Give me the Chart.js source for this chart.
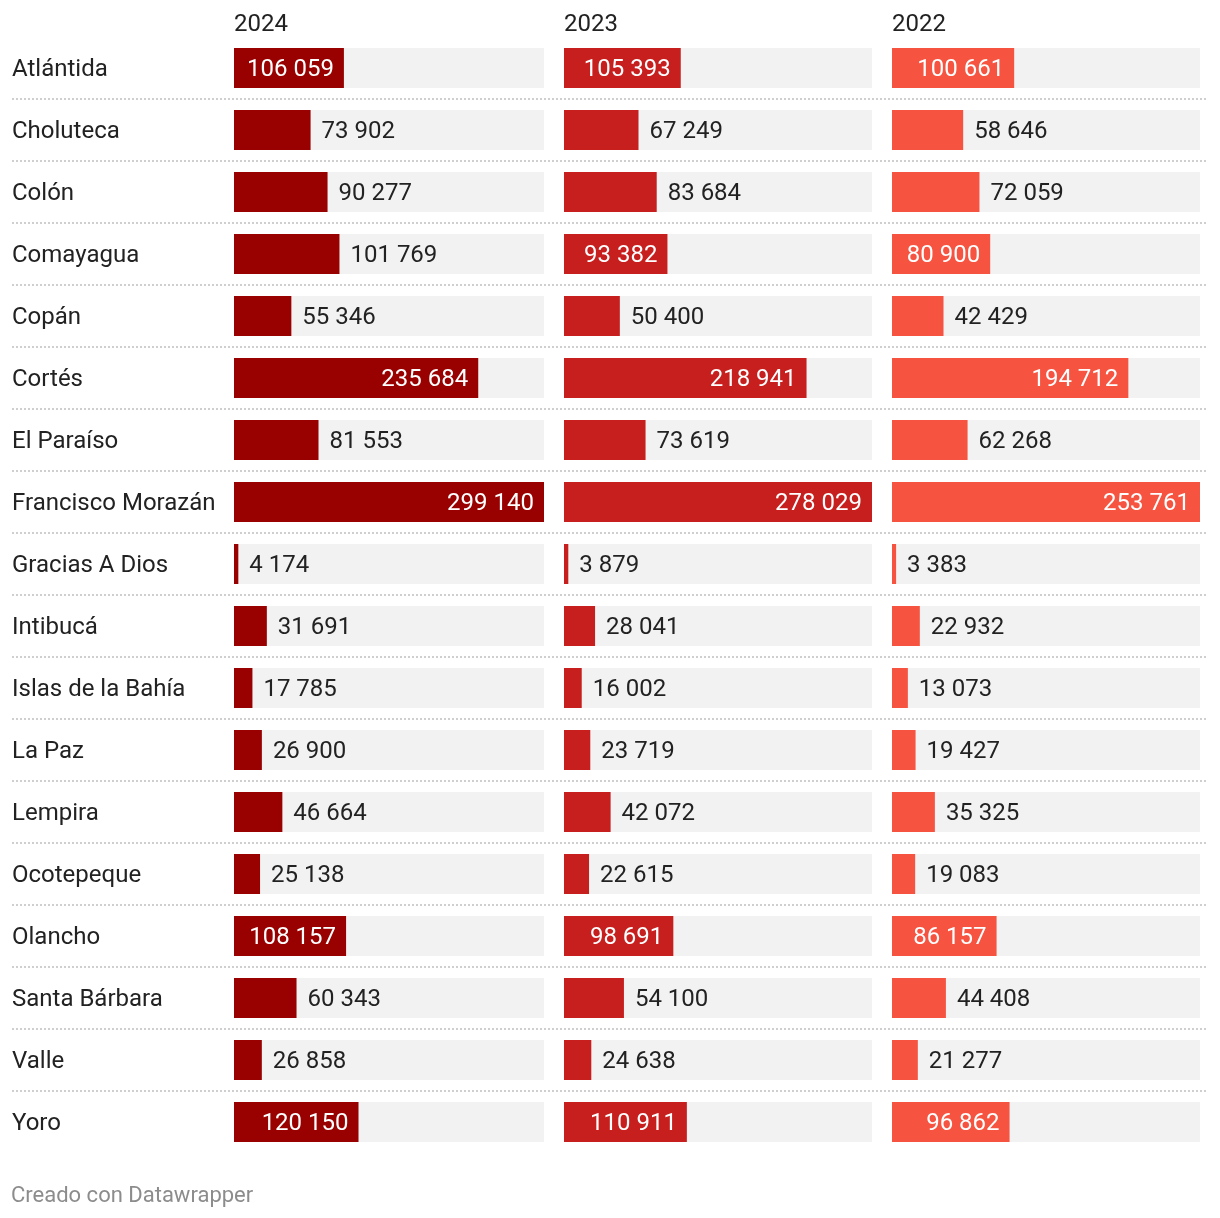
<!DOCTYPE html>
<html><head><meta charset="utf-8">
<script src="https://cdn.jsdelivr.net/npm/chart.js@4/dist/chart.umd.min.js"></script>
<style>
html,body{margin:0;padding:0;background:#fff;}
#wrap{position:relative;width:1220px;height:1218px;overflow:hidden;}
#wrap canvas{position:absolute;left:0;top:0;pointer-events:none;}
#foot{position:absolute;left:11px;top:1182px;font:22px Roboto, sans-serif;color:#8c8c8c;}
</style></head><body>
<div id="wrap">
<canvas id="c1" width="1220" height="1218" style="width:1220px;height:1218px"></canvas>
<canvas id="c2" width="1220" height="1218" style="width:1220px;height:1218px"></canvas>
<canvas id="c3" width="1220" height="1218" style="width:1220px;height:1218px"></canvas>
<div id="foot">Creado con Datawrapper</div>
</div>
<script>
const departamentos = ['Atlántida','Choluteca','Colón','Comayagua','Copán','Cortés','El Paraíso','Francisco Morazán','Gracias A Dios','Intibucá','Islas de la Bahía','La Paz','Lempira','Ocotepeque','Olancho','Santa Bárbara','Valle','Yoro'];
const years = ['2024','2023','2022'];
const values2024 = [106059,73902,90277,101769,55346,235684,81553,299140,4174,31691,17785,26900,46664,25138,108157,60343,26858,120150];
const values2023 = [105393,67249,83684,93382,50400,218941,73619,278029,3879,28041,16002,23719,42072,22615,98691,54100,24638,110911];
const values2022 = [100661,58646,72059,80900,42429,194712,62268,253761,3383,22932,13073,19427,35325,19083,86157,44408,21277,96862];

const FONT = 'Roboto, sans-serif';
const TEXT = '#222222';
const FS = 24;
const fmt = v => String(v).replace(/\B(?=(\d{3})+(?!\d))/g, ' ');

const trackPlugin = {
  id: 'track',
  beforeDatasetsDraw(chart) {
    const {ctx, chartArea} = chart;
    const meta = chart.getDatasetMeta(0);
    ctx.save();
    ctx.fillStyle = '#f2f2f2';
    meta.data.forEach(b => {
      ctx.fillRect(chartArea.left, b.y - b.height / 2, chartArea.right - chartArea.left, b.height);
    });
    ctx.restore();
  }
};

const labelPlugin = {
  id: 'vlabels',
  afterDatasetsDraw(chart) {
    const {ctx} = chart;
    const meta = chart.getDatasetMeta(0);
    const data = chart.data.datasets[0].data;
    ctx.save();
    ctx.font = FS + 'px ' + FONT;
    ctx.textBaseline = 'middle';
    meta.data.forEach((b, i) => {
      const txt = fmt(data[i]);
      const w = ctx.measureText(txt).width;
      const bw = b.x - b.base;
      if (bw > w + 21) {
        ctx.fillStyle = '#ffffff';
        ctx.textAlign = 'right';
        ctx.fillText(txt, b.x - 10, b.y + 1.5);
      } else {
        ctx.fillStyle = TEXT;
        ctx.textAlign = 'left';
        ctx.fillText(txt, b.x + 11, b.y + 1.5);
      }
    });
    ctx.restore();
  }
};

const separatorPlugin = {
  id: 'separators',
  beforeDatasetsDraw(chart) {
    const {ctx} = chart;
    const ys = chart.scales.y;
    ctx.save();
    ctx.strokeStyle = '#cfcfcf';
    ctx.lineWidth = 2;
    ctx.setLineDash([2, 2]);
    for (let i = 0; i < departamentos.length - 1; i++) {
      const y = Math.round((ys.getPixelForValue(i) + ys.getPixelForValue(i + 1)) / 2);
      ctx.beginPath();
      ctx.moveTo(12, y);
      ctx.lineTo(1208, y);
      ctx.stroke();
    }
    ctx.restore();
  }
};

function makeChart(id, year, values, color, padLeft, padRight, showLabels) {
  const max = Math.max(...values);
  const plugins = [trackPlugin, labelPlugin];
  if (showLabels) plugins.unshift(separatorPlugin);
  return new Chart(document.getElementById(id), {
    type: 'bar',
    data: {
      labels: departamentos,
      datasets: [{
        label: year,
        data: values,
        backgroundColor: color,
        barPercentage: 40 / 62,
        categoryPercentage: 1
      }]
    },
    plugins,
    options: {
      indexAxis: 'y',
      responsive: false,
      animation: false,
      events: [],
      layout: { padding: { left: padLeft, right: padRight, top: 0, bottom: 65 } },
      plugins: {
        legend: { display: false },
        tooltip: { enabled: false },
        title: {
          display: true, text: year, align: 'start', fullSize: false,
          color: TEXT, font: { family: FONT, size: FS, weight: 'normal', lineHeight: 1.2 },
          padding: { top: 11, bottom: -2.8 }
        }
      },
      scales: {
        x: { type: 'linear', min: 0, max: max, display: false },
        y: {
          type: 'category',
          display: showLabels,
          grid: { display: false },
          border: { display: false },
          ticks: { crossAlign: 'far', padding: 0, labelOffset: 1.5, color: TEXT, font: { family: FONT, size: FS } },
          afterFit(s) { s.width = showLabels ? 222 : 0; }
        }
      }
    }
  });
}

makeChart('c1', years[0], values2024, '#990000', 12, 676, true);
makeChart('c2', years[1], values2023, '#c71e1e', 564, 348, false);
makeChart('c3', years[2], values2022, '#f65340', 892, 20, false);
</script>
</body></html>
